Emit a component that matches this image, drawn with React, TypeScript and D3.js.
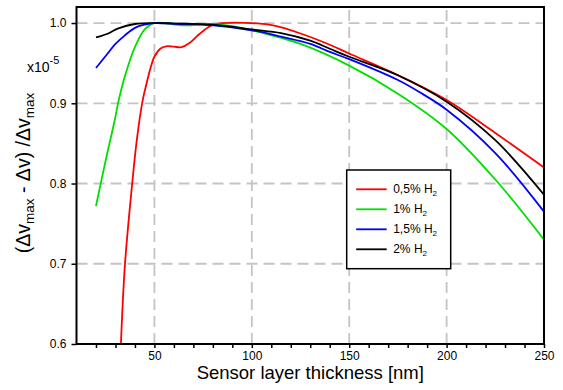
import React, { useEffect, useRef } from 'react'
import * as d3 from 'd3'

// thickness [nm] and normalised values
const redX = [32.8, 34.9, 38.6, 41, 44, 46, 48, 50, 53, 56, 60, 64, 68, 72, 76, 80, 85, 100, 112, 125, 140, 150, 175, 200, 225, 250]
const redY = [0.6, 0.7, 0.8, 0.855, 0.904, 0.925, 0.944, 0.958, 0.968, 0.971, 0.9705, 0.97, 0.975, 0.984, 0.992, 0.998, 1.0, 1.0, 0.9965, 0.987, 0.973, 0.962, 0.935, 0.904, 0.863, 0.82]

const greenX = [20, 25, 29.8, 31.5, 35, 40, 45, 50, 65, 80, 90, 100, 125, 150, 175, 200, 225, 250]
const greenY = [0.772, 0.829, 0.881, 0.902, 0.935, 0.97, 0.992, 1.0, 0.997, 0.999, 0.996, 0.991, 0.974, 0.947, 0.912, 0.868, 0.805, 0.73]

const blueX = [20, 26, 30, 35, 40, 45, 50, 60, 80, 100, 115, 130, 140, 150, 175, 186, 200, 225, 250]
const blueY = [0.944, 0.962, 0.974, 0.985, 0.994, 0.998, 1.0, 0.999, 0.997, 0.991, 0.983, 0.974, 0.964, 0.955, 0.929, 0.914, 0.892, 0.838, 0.765]

const blackX = [20, 26.3, 31.5, 40, 50, 60, 80, 100, 115, 130, 140, 150, 175, 200, 225, 250]
const blackY = [0.982, 0.987, 0.9934, 0.9988, 1.0, 0.9995, 0.998, 0.992, 0.9875, 0.978, 0.968, 0.958, 0.935, 0.902, 0.854, 0.786]

const seriesNames = ['0,5%', '1%', '1,5%', '2%']
const seriesColors = ['#ff0000', '#00e000', '#0000ff', '#000000']

const xTicks = [50, 100, 150, 200, 250]
const xMinor = [20, 30, 40, 60, 70, 80, 90, 110, 120, 130, 140, 160, 170, 180, 190, 210, 220, 230, 240]
const yTicks = [0.6, 0.7, 0.8, 0.9, 1.0]

const FONT = '"Liberation Sans", Arial, sans-serif'

export default function App(){
  const svgRef = useRef<SVGSVGElement>(null)

  useEffect(()=>{
    const width = 563, height = 390
    const svg = d3.select(svgRef.current).attr('width', width).attr('height', height)
    svg.selectAll('*').remove()

    const x = d3.scaleLinear().domain([10, 250]).range([76.5, 544])
    const y = d3.scaleLinear().domain([0.6, 1.02]).range([344, 7])
    const [x0, x1] = x.range(), [y0, y1] = y.range()

    svg.append('rect').attr('width', width).attr('height', height).attr('fill', '#fff')

    // dashed grid
    const grid = svg.append('g').attr('stroke', '#c4c4c4').attr('stroke-width', 1.8).attr('stroke-dasharray', '11,6')
    grid.selectAll('line.v').data(xTicks.slice(0, -1)).join('line').attr('class', 'v')
      .attr('x1', d=>x(d)).attr('x2', d=>x(d)).attr('y1', y0).attr('y2', y1)
    grid.selectAll('line.h').data(yTicks.slice(1)).join('line').attr('class', 'h')
      .attr('x1', x0).attr('x2', x1).attr('y1', d=>y(d)).attr('y2', d=>y(d))

    // curves
    const series = [[redX, redY], [greenX, greenY], [blueX, blueY], [blackX, blackY]]
    const line = d3.line<[number, number]>().x(d=>x(d[0])).y(d=>y(d[1])).curve(d3.curveCatmullRom.alpha(0.5))
    series.forEach(([xs, ys], i)=>{
      const pts = xs.map((v, j)=>[v, ys[j]] as [number, number])
      svg.append('path').attr('d', line(pts)).attr('fill', 'none')
        .attr('stroke', seriesColors[i]).attr('stroke-width', 1.8).attr('stroke-linejoin', 'round')
    })

    // frame
    svg.append('rect').attr('x', x0).attr('y', y1).attr('width', x1 - x0).attr('height', y0 - y1)
      .attr('fill', 'none').attr('stroke', '#000').attr('stroke-width', 2)

    // axes
    const xAxis = svg.append('g').attr('transform', `translate(0,${y0})`)
      .call(d3.axisBottom(x).tickValues(xTicks).tickSize(4).tickPadding(3).tickFormat(d3.format('d')))
    xAxis.select('.domain').remove()
    xAxis.selectAll('text').attr('font-family', FONT).attr('font-size', 12).attr('fill', '#000')
    xAxis.selectAll('line').attr('stroke-width', 1.5)
    svg.append('g').attr('transform', `translate(0,${y0})`)
      .call(d3.axisBottom(x).tickValues(xMinor).tickSize(4).tickFormat(()=>''))
      .call(g=>g.select('.domain').remove())
      .selectAll('line').attr('stroke-width', 1.5)

    const yAxis = svg.append('g').attr('transform', `translate(${x0},0)`)
      .call(d3.axisLeft(y).tickValues(yTicks).tickSize(5).tickPadding(5).tickFormat(d3.format('.1f')))
    yAxis.select('.domain').remove()
    yAxis.selectAll('text').attr('font-family', FONT).attr('font-size', 12).attr('fill', '#000')
    yAxis.selectAll('line').attr('stroke-width', 1.5)

    // x10^-5
    const exp = svg.append('text').attr('x', 27).attr('y', 72).attr('font-family', FONT).attr('font-size', 14)
    exp.append('tspan').text('x10')
    exp.append('tspan').attr('dy', -8).attr('font-size', 11).text('-5')

    // axis titles
    svg.append('text').attr('x', (x0 + x1) / 2).attr('y', 379).attr('text-anchor', 'middle')
      .attr('font-family', FONT).attr('font-size', 18.5).text('Sensor layer thickness [nm]')

    const yl = svg.append('text').attr('transform', 'translate(30,173) rotate(-90)').attr('text-anchor', 'middle')
      .attr('font-family', FONT).attr('font-size', 19.5)
    yl.append('tspan').text('(Δv')
    yl.append('tspan').attr('dy', 4).attr('font-size', 13.5).text('max')
    yl.append('tspan').attr('dy', -4).text(' - Δv) /Δv')
    yl.append('tspan').attr('dy', 4).attr('font-size', 13.5).text('max')

    // legend
    const lg = svg.append('g').attr('transform', 'translate(346.7,170)')
    lg.append('rect').attr('width', 104).attr('height', 98.7).attr('fill', '#fff').attr('stroke', '#000').attr('stroke-width', 1.5)
    seriesNames.forEach((name, i)=>{
      const ly = 19.3 + i * 20
      lg.append('line').attr('x1', 9.5).attr('x2', 40).attr('y1', ly).attr('y2', ly)
        .attr('stroke', seriesColors[i]).attr('stroke-width', 1.8)
      const t = lg.append('text').attr('x', 46.5).attr('y', ly + 4).attr('font-family', FONT).attr('font-size', 12)
      t.append('tspan').text(`${name} H`)
      t.append('tspan').attr('dy', 3).attr('font-size', 8).text('2')
    })
  },[])

  return (<div><svg ref={svgRef} style={{position:'absolute', left:0, top:0}}></svg></div>)
}
